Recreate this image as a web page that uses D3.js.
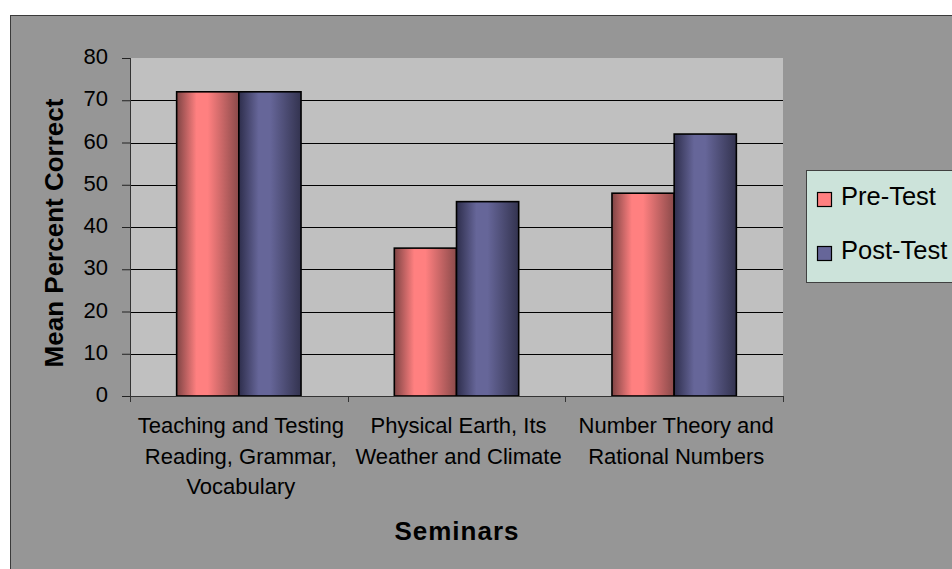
<!DOCTYPE html>
<html>
<head>
<meta charset="utf-8">
<script src="https://cdn.jsdelivr.net/npm/d3@7/dist/d3.min.js"></script>
<style>
  html, body { margin: 0; padding: 0; background: #ffffff; }
  svg { display: block; font-family: "Liberation Sans", Arial, sans-serif; }
</style>
</head>
<body>
<svg id="chart" width="952" height="569"></svg>
<script>
// Seminar categories (each label split into display lines)
const categories = [
  ["Teaching and Testing", "Reading, Grammar,", "Vocabulary"],
  ["Physical Earth, Its", "Weather and Climate"],
  ["Number Theory and", "Rational Numbers"]
];
const seriesNames = ["Pre-Test", "Post-Test"];
const preTest = [72, 35, 48];
const postTest = [72, 46, 62];
const yTicks = [0, 10, 20, 30, 40, 50, 60, 70, 80];

const svg = d3.select("#chart");
const defs = svg.append("defs");

// Cylinder-like horizontal shading for the bars
const shades = [
  { id: "gradPre", edge: "#7e4444", mid: "#ff8080", edge2: "#8a4a4a" },
  { id: "gradPost", edge: "#2e2e4c", mid: "#666699", edge2: "#33334f" }
];
shades.forEach(s => {
  const g = defs.append("linearGradient").attr("id", s.id)
    .attr("x1", "0%").attr("x2", "100%").attr("y1", "0%").attr("y2", "0%");
  g.append("stop").attr("offset", "0%").attr("stop-color", s.edge);
  g.append("stop").attr("offset", "32%").attr("stop-color", s.mid);
  g.append("stop").attr("offset", "50%").attr("stop-color", s.mid);
  g.append("stop").attr("offset", "100%").attr("stop-color", s.edge2);
});

// Chart area frame
svg.append("rect")
  .attr("x", 10.5).attr("y", 15.5)
  .attr("width", 960).attr("height", 570)
  .attr("fill", "#969696").attr("stroke", "#3a3a3a").attr("stroke-width", 1);

const plot = { left: 130, top: 58, right: 783, bottom: 396 };
const w = plot.right - plot.left, h = plot.bottom - plot.top;
const g = svg.append("g").attr("transform", `translate(${plot.left},${plot.top})`);

const y = d3.scaleLinear().domain([0, 80]).range([h, 0]);
const x0 = d3.scaleBand().domain(d3.range(categories.length)).range([0, w])
  .paddingInner(1.5 / 3.5).paddingOuter(0.75 / 3.5);
const x1 = d3.scaleBand().domain(seriesNames).range([0, x0.bandwidth()]);

// Plot background
g.append("rect").attr("width", w).attr("height", h).attr("fill", "#c0c0c0");

// Horizontal gridlines
g.append("g").selectAll("line")
  .data(yTicks.filter(t => t > 0 && t < 80))
  .join("line")
  .attr("x1", 0).attr("x2", w)
  .attr("y1", d => Math.round(y(d)) + 0.5).attr("y2", d => Math.round(y(d)) + 0.5)
  .attr("stroke", "#000").attr("stroke-width", 1);

// Bars
const series = [
  { name: "Pre-Test", values: preTest, fill: "url(#gradPre)" },
  { name: "Post-Test", values: postTest, fill: "url(#gradPost)" }
];
const groups = g.append("g").selectAll("g")
  .data(categories.map((c, i) => i))
  .join("g")
  .attr("transform", i => `translate(${x0(i)},0)`);
groups.selectAll("rect")
  .data(i => series.map(s => ({ name: s.name, value: s.values[i], fill: s.fill })))
  .join("rect")
  .attr("x", d => x1(d.name))
  .attr("y", d => y(d.value))
  .attr("width", x1.bandwidth())
  .attr("height", d => h - y(d.value))
  .attr("fill", d => d.fill)
  .attr("stroke", "#000").attr("stroke-width", 1.6);

// Y axis
const yAxis = g.append("g")
  .call(d3.axisLeft(y).tickValues(yTicks).tickSize(8).tickPadding(14));
yAxis.select(".domain").attr("stroke", "#333").attr("d", `M0.5,0V${h}`);
yAxis.selectAll(".tick line").attr("stroke", "#222");
yAxis.selectAll(".tick text")
  .attr("font-size", 22).attr("fill", "#000")
  .attr("font-family", "Liberation Sans, Arial, sans-serif")
  .attr("dy", "0.26em");

// X axis with ticks on the category boundaries
const xAxisG = g.append("g").attr("transform", `translate(0,${h})`);
xAxisG.append("line").attr("x1", 0).attr("x2", w).attr("y1", 0.5).attr("y2", 0.5)
  .attr("stroke", "#333");
const step = x0.step();
xAxisG.selectAll("line.tk")
  .data(d3.range(categories.length + 1))
  .join("line").attr("class", "tk")
  .attr("x1", i => Math.round(i * step) + 0.5).attr("x2", i => Math.round(i * step) + 0.5)
  .attr("y1", 0).attr("y2", 6)
  .attr("stroke", "#333");

// Category labels
const labels = xAxisG.selectAll("text.cat")
  .data(categories)
  .join("text").attr("class", "cat")
  .attr("text-anchor", "middle")
  .attr("font-size", 22).attr("fill", "#000")
  .attr("transform", (d, i) => `translate(${x0(i) + x0.bandwidth() / 2 + 2},37)`);
labels.selectAll("tspan")
  .data(d => d)
  .join("tspan")
  .attr("x", 0).attr("y", (d, i) => i * 30.5)
  .text(d => d);

// Axis titles
svg.append("text")
  .attr("transform", "translate(63,233) rotate(-90)")
  .attr("text-anchor", "middle")
  .attr("font-size", 26).attr("font-weight", "bold").attr("fill", "#000")
  .text("Mean Percent Correct");
svg.append("text")
  .attr("x", 457).attr("y", 540)
  .attr("text-anchor", "middle")
  .attr("font-size", 26).attr("font-weight", "bold").attr("letter-spacing", 1)
  .attr("fill", "#000")
  .text("Seminars");

// Legend
const legend = svg.append("g");
legend.append("rect")
  .attr("x", 806.5).attr("y", 170.5).attr("width", 200).attr("height", 112)
  .attr("fill", "#cce3da").attr("stroke", "#404040").attr("stroke-width", 1);
const legendFills = ["#ff8080", "#666699"];
const li = legend.selectAll("g.item")
  .data(seriesNames)
  .join("g").attr("class", "item")
  .attr("transform", (d, i) => `translate(817,${192 + i * 54})`);
li.append("rect")
  .attr("x", 0.5).attr("y", 0.5).attr("width", 14).attr("height", 14)
  .attr("fill", (d, i) => legendFills[i]).attr("stroke", "#000").attr("stroke-width", 1.2);
li.append("text")
  .attr("x", 24).attr("y", 13)
  .attr("font-size", 25.5).attr("fill", "#000")
  .text(d => d);
</script>
</body>
</html>
